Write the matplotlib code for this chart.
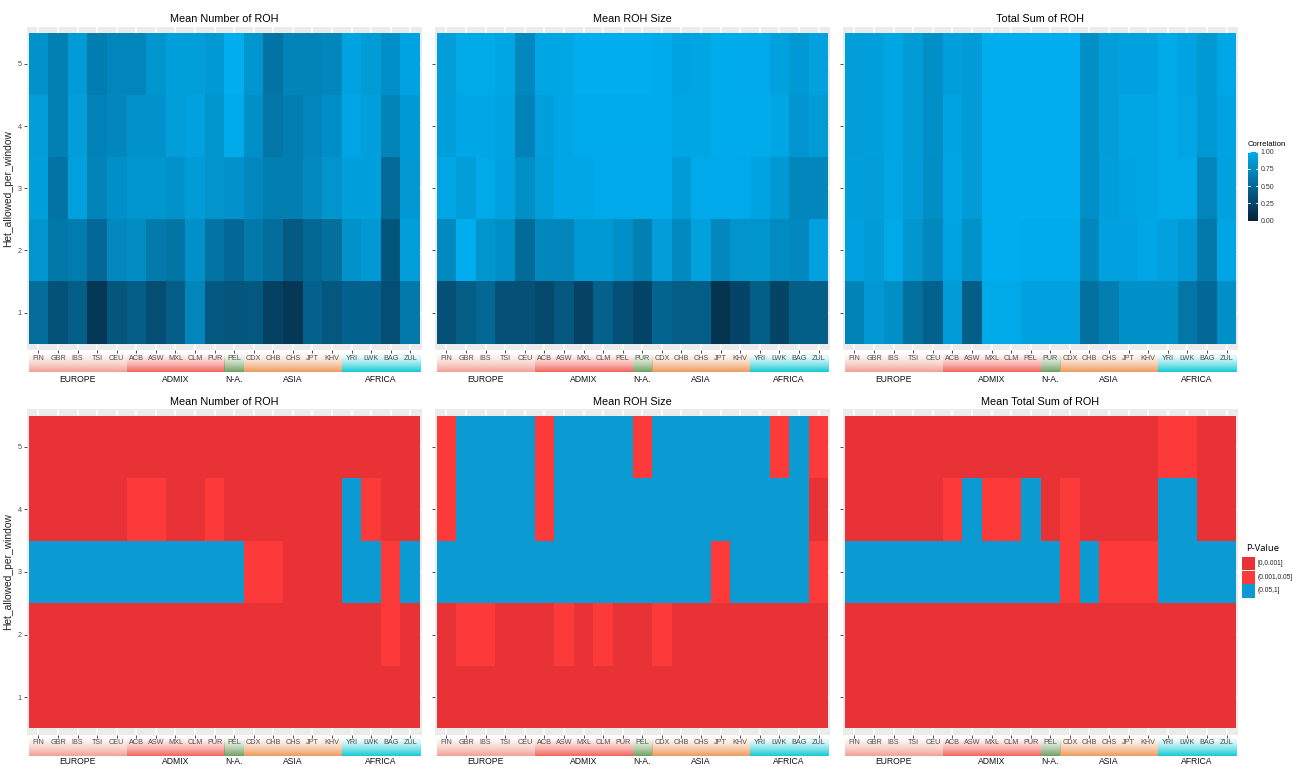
import numpy as np
import matplotlib
matplotlib.use("Agg")
import matplotlib.pyplot as plt
from matplotlib.colors import LinearSegmentedColormap, ListedColormap, BoundaryNorm, to_rgb
from matplotlib.patches import Rectangle

plt.rcParams['font.family'] = ['Liberation Sans', 'DejaVu Sans']

# ---------------------------------------------------------------- data
het_levels = [1, 2, 3, 4, 5]

pops_pur_first = ["FIN", "GBR", "IBS", "TSI", "CEU", "ACB", "ASW", "MXL", "CLM", "PUR",
                  "PEL", "CDX", "CHB", "CHS", "JPT", "KHV", "YRI", "LWK", "BAG", "ZUL"]
pops_pel_first = ["FIN", "GBR", "IBS", "TSI", "CEU", "ACB", "ASW", "MXL", "CLM", "PEL",
                  "PUR", "CDX", "CHB", "CHS", "JPT", "KHV", "YRI", "LWK", "BAG", "ZUL"]

groups = ["EUROPE", "ADMIX", "N-A.", "ASIA", "AFRICA"]
group_sizes = [5, 5, 1, 5, 4]
group_colors = ["#F0A396", "#F2645A", "#6FA062", "#EE9A5E", "#14C9D5"]

# correlation matrices, rows listed from Het_allowed_per_window = 5 down to 1
corr_num_roh = [
    [.80, .67, .86, .65, .71, .71, .82, .89, .88, .85, 1.0, .82, .58, .70, .70, .72, .92, .86, .78, .92],
    [.88, .67, .88, .69, .72, .80, .80, .88, .91, .82, .98, .78, .60, .66, .71, .77, .94, .89, .70, .85],
    [.89, .58, .89, .70, .78, .83, .83, .80, .87, .81, .80, .73, .66, .66, .74, .81, .90, .90, .52, .84],
    [.83, .61, .64, .50, .73, .76, .63, .59, .79, .58, .50, .62, .54, .40, .49, .55, .80, .84, .36, .88],
    [.53, .34, .43, .16, .37, .42, .32, .42, .71, .38, .37, .38, .22, .16, .45, .38, .46, .46, .32, .62],
]
corr_roh_size = [
    [.88, .96, .96, .93, .73, .93, .93, 1.0, 1.0, .99, .99, .98, .92, .93, .98, .98, .97, .91, .85, .91],
    [.90, .95, .95, .92, .69, .90, .95, .98, .98, .98, .98, .98, .93, .93, .98, .98, .98, .93, .83, .86],
    [.93, .88, .96, .91, .78, .88, .95, .95, .97, .97, .97, .97, .87, .97, .97, .97, .92, .85, .72, .72],
    [.74, 1.0, .82, .78, .52, .72, .71, .85, .85, .78, .67, .88, .74, .91, .73, .81, .82, .75, .73, .91],
    [.33, .42, .50, .33, .33, .27, .39, .23, .45, .33, .25, .47, .42, .42, .13, .25, .43, .25, .43, .43],
]
corr_total_sum = [
    [.88, .89, .93, .86, .78, .90, .86, 1.0, 1.0, 1.0, 1.0, 1.0, .78, .88, .91, .91, .96, .92, .85, .95],
    [.88, .89, .93, .86, .78, .92, .87, 1.0, 1.0, 1.0, 1.0, 1.0, .78, .88, .93, .93, .96, .94, .85, .92],
    [.90, .88, .93, .87, .77, .94, .87, 1.0, 1.0, 1.0, 1.0, 1.0, .78, .89, .92, .93, .96, .96, .71, .91],
    [.91, .86, .96, .83, .73, .92, .79, 1.0, 1.0, .98, .98, .98, .72, .91, .91, .95, .91, .85, .62, .94],
    [.69, .84, .78, .56, .46, .87, .43, .96, .96, .91, .91, .91, .56, .66, .79, .79, .79, .60, .50, .78],
]

# p-value classes: 0 = [0,0.001], 1 = (0.001,0.05], 2 = (0.05,1]
p_labels = ["[0,0.001]", "(0.001,0.05]", "(0.05,1]"]
pval_num_roh = [
    [0, 0, 0, 0, 0, 0, 0, 0, 0, 0, 0, 0, 0, 0, 0, 0, 0, 0, 0, 0],
    [0, 0, 0, 0, 0, 1, 1, 0, 0, 1, 0, 0, 0, 0, 0, 0, 2, 1, 0, 0],
    [2, 2, 2, 2, 2, 2, 2, 2, 2, 2, 2, 1, 1, 0, 0, 0, 2, 2, 1, 2],
    [0, 0, 0, 0, 0, 0, 0, 0, 0, 0, 0, 0, 0, 0, 0, 0, 0, 0, 1, 0],
    [0, 0, 0, 0, 0, 0, 0, 0, 0, 0, 0, 0, 0, 0, 0, 0, 0, 0, 0, 0],
]
pval_roh_size = [
    [1, 2, 2, 2, 2, 1, 2, 2, 2, 2, 1, 2, 2, 2, 2, 2, 2, 1, 2, 1],
    [1, 2, 2, 2, 2, 1, 2, 2, 2, 2, 2, 2, 2, 2, 2, 2, 2, 2, 2, 0],
    [2, 2, 2, 2, 2, 2, 2, 2, 2, 2, 2, 2, 2, 2, 1, 2, 2, 2, 2, 1],
    [0, 1, 1, 0, 0, 0, 1, 0, 1, 0, 0, 1, 0, 0, 0, 0, 0, 0, 0, 0],
    [0, 0, 0, 0, 0, 0, 0, 0, 0, 0, 0, 0, 0, 0, 0, 0, 0, 0, 0, 0],
]
pval_total_sum = [
    [0, 0, 0, 0, 0, 0, 0, 0, 0, 0, 0, 0, 0, 0, 0, 0, 1, 1, 0, 0],
    [0, 0, 0, 0, 0, 1, 2, 1, 1, 2, 0, 1, 0, 0, 0, 0, 2, 2, 0, 0],
    [2, 2, 2, 2, 2, 2, 2, 2, 2, 2, 2, 1, 2, 1, 1, 1, 2, 2, 2, 2],
    [0, 0, 0, 0, 0, 0, 0, 0, 0, 0, 0, 0, 0, 0, 0, 0, 0, 0, 0, 0],
    [0, 0, 0, 0, 0, 0, 0, 0, 0, 0, 0, 0, 0, 0, 0, 0, 0, 0, 0, 0],
]

# ---------------------------------------------------------------- styling
W, H = 1305, 766
fig = plt.figure(figsize=(W / 100, H / 100), dpi=100)


def rect(l, t, r, b):
    return [l / W, 1 - b / H, (r - l) / W, (b - t) / H]


corr_cmap = LinearSegmentedColormap.from_list("corr", ["#06223A", "#00AEEF"])
p_colors = ["#E83236", "#FC3A3A", "#0B9AD2"]
p_cmap = ListedColormap(p_colors)
p_norm = BoundaryNorm([-0.5, 0.5, 1.5, 2.5], 3)

col_x = [(26.7, 422.0), (434.7, 830.3), (842.7, 1238.3)]
row_y = [(26.5, 349.9), (409.5, 734.5)]
strip_y = [(352.0, 372.0, 380.0), (736.5, 756.0, 761.0)]

panels = [
    (0, 0, "Mean Number of ROH", pops_pur_first, corr_num_roh, "corr"),
    (0, 1, "Mean ROH Size", pops_pel_first, corr_roh_size, "corr"),
    (0, 2, "Total Sum of ROH", pops_pel_first, corr_total_sum, "corr"),
    (1, 0, "Mean Number of ROH", pops_pur_first, pval_num_roh, "p"),
    (1, 1, "Mean ROH Size", pops_pur_first, pval_roh_size, "p"),
    (1, 2, "Mean Total Sum of ROH", pops_pur_first, pval_total_sum, "p"),
]

for r, c, title, labels, rows, kind in panels:
    l, rgt = col_x[c]
    t, b = row_y[r]
    ax = fig.add_axes(rect(l, t, rgt, b))
    ax.set_facecolor("#EBEBEB")
    z = np.array(rows, dtype=float)[::-1]
    n = len(labels)
    xe = np.arange(0.5, n + 1)
    ye = np.arange(0.5, len(het_levels) + 1)
    if kind == "corr":
        ax.pcolormesh(xe, ye, z, cmap=corr_cmap, vmin=0, vmax=1, zorder=2)
    else:
        ax.pcolormesh(xe, ye, z, cmap=p_cmap, norm=p_norm, zorder=2)
    ax.set_xlim(0.4, n + 0.6)
    ax.set_ylim(0.4, len(het_levels) + 0.6)
    ax.set_xticks(range(1, n + 1))
    ax.set_xticklabels(labels)
    ax.set_yticks(het_levels)
    ax.set_yticklabels([str(v) for v in het_levels] if c == 0 else [])
    ax.set_axisbelow(True)
    ax.grid(True, color="white", lw=1.1, zorder=0)
    for s in ax.spines.values():
        s.set_visible(False)
    ax.tick_params(length=2.0, width=0.6, color="#333333", labelsize=5.2,
                   labelcolor="#4D4D4D", pad=1.5)
    ax.set_title(title, fontsize=7.8, pad=3.2)
    if c == 0:
        fig.text(8 / W, 1 - (t + b) / 2 / H, "Het_allowed_per_window", rotation=90,
                 ha="center", va="center", fontsize=7.4, color="#222222")

    # population-group colour band under the x labels
    st, sb, ly = strip_y[r]
    sax = fig.add_axes(rect(l, st, rgt, sb))
    sax.set_zorder(-1)
    sax.set_xlim(0.4, n + 0.6)
    sax.set_ylim(0, 1)
    sax.axis("off")
    start = 0
    for name, size, col in zip(groups, group_sizes, group_colors):
        grad = np.zeros((64, 1, 4))
        grad[:, 0, :3] = to_rgb(col)
        grad[:, 0, 3] = np.linspace(0, 1, 64) ** 1.4
        sax.imshow(grad, extent=(start + 0.5, start + size + 0.5, 0, 1),
                   aspect="auto", origin="upper", interpolation="bilinear")
        sax.text(start + (size + 1) / 2, (sb - ly) / (sb - st), name, ha="center",
                 va="center", fontsize=6.2, color="#111111", clip_on=False)
        start += size

# ---------------------------------------------------------------- legends
# correlation colour bar
cax = fig.add_axes(rect(1248.3, 151.7, 1257.7, 220.7))
cax.imshow(np.linspace(0, 1, 256).reshape(-1, 1), origin="lower", extent=(0, 1, 0, 1),
           aspect="auto", cmap=corr_cmap)
cax.set_xlim(0, 1)
cax.set_ylim(0, 1)
ticks = [0, 0.25, 0.5, 0.75, 1.0]
for v in ticks:
    cax.plot([0, 0.2], [v, v], color="white", lw=0.6)
    cax.plot([0.8, 1], [v, v], color="white", lw=0.6)
cax.set_xticks([])
cax.yaxis.tick_right()
cax.set_yticks(ticks)
cax.set_yticklabels([f"{v:.2f}" for v in ticks])
cax.tick_params(length=0, labelsize=5.0, labelcolor="#333333", pad=2)
for s in cax.spines.values():
    s.set_visible(False)
fig.text(1248 / W, 1 - 145 / H, "Correlation", fontsize=5.6, ha="left", va="center")

# p-value keys
fig.text(1246.5 / W, 1 - 548.5 / H, "P-Value", fontsize=6.8, ha="left", va="center",
         family=["Open Sans", "DejaVu Sans"])
key_tops = [557.0, 570.7, 584.3]
for top, col, lab in zip(key_tops, p_colors, p_labels):
    fig.patches.append(Rectangle(((1242.3) / W, 1 - (top + 13.3) / H), 13 / W, 13.3 / H,
                                 transform=fig.transFigure, facecolor=col, edgecolor="none"))
    fig.text(1258 / W, 1 - (top + 6.6) / H, lab, fontsize=4.8, ha="left", va="center",
             color="#222222")

fig.savefig("out.png", dpi=100)
